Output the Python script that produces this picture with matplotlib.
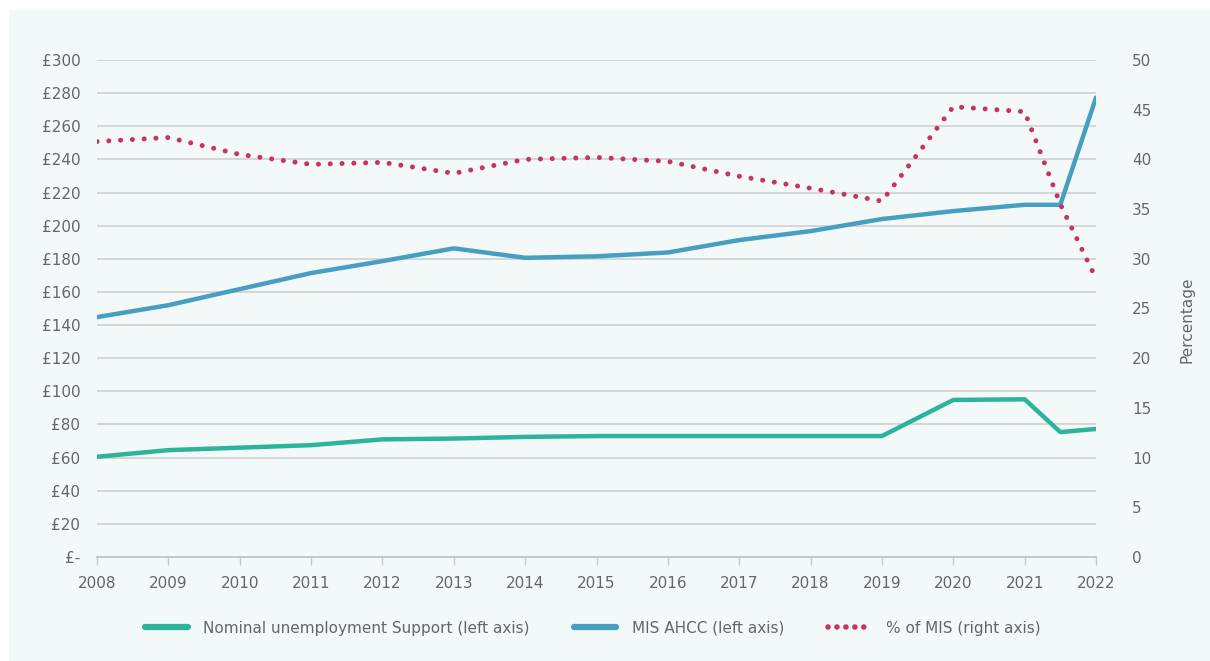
import numpy as np
import matplotlib.pyplot as plt
from matplotlib.patches import Rectangle
from matplotlib.lines import Line2D

plt.rcParams['font.family'] = ['DejaVu Sans']

# datos
anios = [2008, 2009, 2010, 2011, 2012, 2013, 2014, 2015, 2016, 2017, 2018, 2019, 2020, 2021, 2021.5, 2022]
nominal = [60.5, 64.5, 66, 67.5, 71, 71.5, 72.5, 73, 73, 73, 73, 73, 94.8, 95.2, 75.4, 77.3]
mis_ahcc = [144.8, 152, 161.7, 171.4, 178.6, 186.3, 180.6, 181.5, 183.8, 191.3, 196.7, 204, 208.8, 212.6, 212.6, 277.3]
pct_mis = [41.8, 42.2, 40.5, 39.5, 39.7, 38.6, 40.0, 40.2, 39.8, 38.3, 37.1, 35.8, 45.3, 44.8, 35.5, 28.0]

ticks_izq = list(range(0, 301, 20))
etiquetas_izq = ['£-'] + [f'£{v}' for v in ticks_izq[1:]]
ticks_der = list(range(0, 51, 5))
ticks_x = list(range(2008, 2023))

verde = '#2bb49a'
azul = '#469fc1'
rosa = '#c8335f'
gris = '#666666'
fondo = '#f3f8f8'

fig = plt.figure(figsize=(12.1, 6.61), dpi=100)
fig.patch.set_facecolor('white')
fig.patches.append(Rectangle((9 / 1210, 0), 1 - 9 / 1210, 1 - 10 / 661,
                             transform=fig.transFigure, facecolor=fondo,
                             edgecolor='none', zorder=-10))

ax = fig.add_axes([97 / 1210, 1 - 557 / 661, (1096 - 97) / 1210, (557 - 60) / 661])
ax.set_facecolor('none')
ax2 = ax.twinx()

ax.plot(anios, nominal, color=verde, lw=3.2, solid_capstyle='round', zorder=3)
ax.plot(anios, mis_ahcc, color=azul, lw=3.2, solid_capstyle='round', zorder=3)
ax2.plot(anios, pct_mis, color=rosa, lw=3.6, linestyle=(0, (0.01, 2.35)),
         dash_capstyle='round', zorder=3)

ax.set_xlim(2008, 2022)
ax.set_ylim(0, 300)
ax2.set_ylim(0, 50)

ax.set_yticks(ticks_izq)
ax.set_yticklabels(etiquetas_izq)
ax2.set_yticks(ticks_der)
ax.set_xticks(ticks_x)

ax.grid(axis='y', color='#d0d0d0', lw=1.2)
ax.set_axisbelow(True)

for a in (ax, ax2):
    for s in ['top', 'left', 'right']:
        a.spines[s].set_visible(False)
    a.spines['bottom'].set_color('#c8c8c8')
    a.spines['bottom'].set_linewidth(1.2)

ax.tick_params(axis='y', length=0, pad=12, labelsize=11, labelcolor=gris)
ax2.tick_params(axis='y', length=0, pad=26, labelsize=11, labelcolor=gris)
ax.tick_params(axis='x', length=6, width=1, color='#c8c8c8', pad=8,
               labelsize=11, labelcolor=gris)

ax2.set_ylabel('Percentage', fontsize=11, color=gris)
ax2.yaxis.set_label_coords(1.084, 0.477)

# manijas de la leyenda
h1 = Line2D([], [], color=verde, lw=4.5, solid_capstyle='round')
h2 = Line2D([], [], color=azul, lw=4.5, solid_capstyle='round')
h3 = Line2D([], [], color=rosa, lw=4.0, linestyle=(0, (0.01, 1.6)), dash_capstyle='round')
fig.legend(handles=[h1, h2, h3],
           labels=['Nominal unemployment Support (left axis)', 'MIS AHCC (left axis)',
                   '% of MIS (right axis)'],
           loc='center', bbox_to_anchor=(0.49, 1 - 628 / 661),
           ncol=3, frameon=False, fontsize=11, labelcolor=gris,
           handlelength=2.8, columnspacing=2.9, handletextpad=1.0)

fig.savefig('out.png', dpi=100, facecolor=fig.get_facecolor())
